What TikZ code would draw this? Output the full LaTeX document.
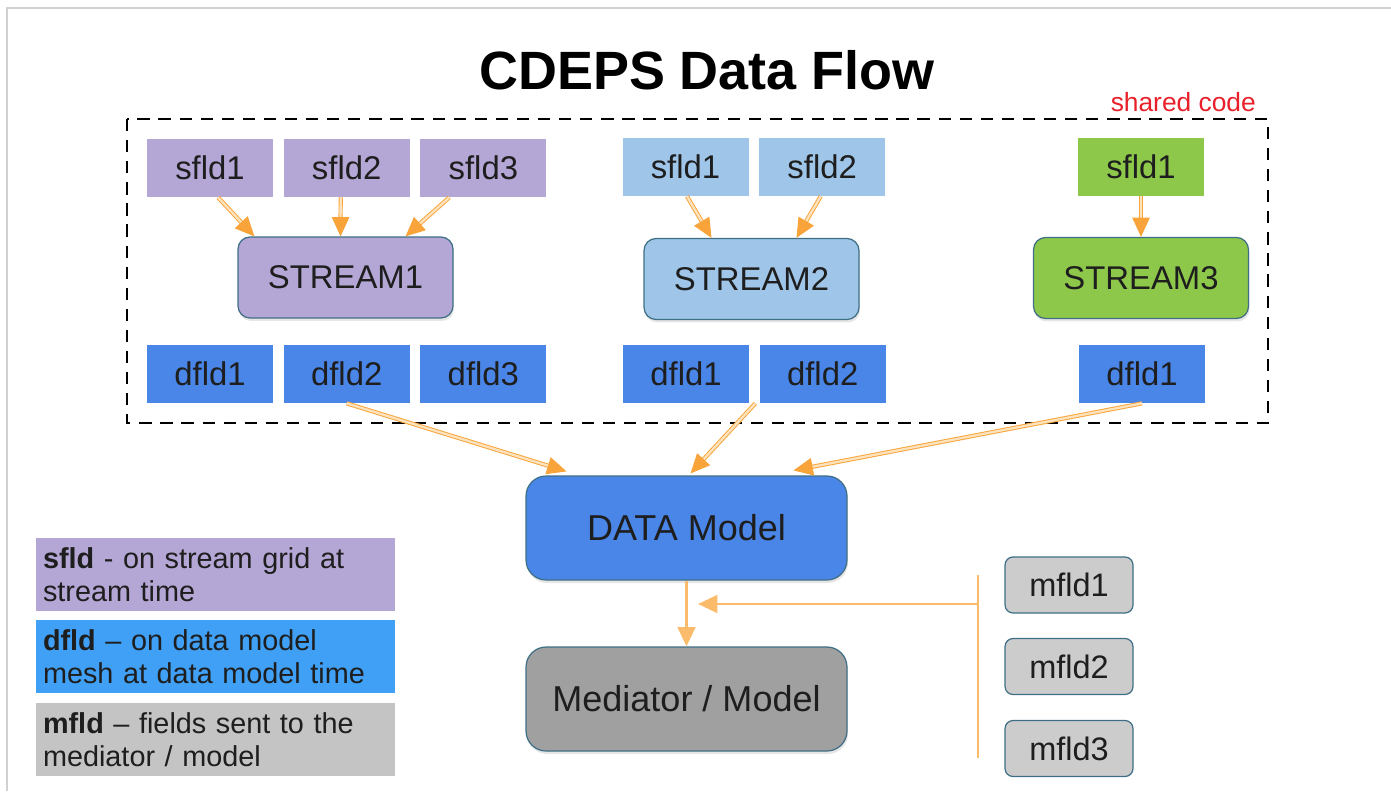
\documentclass[tikz,border=0pt]{standalone}
\usepackage{fontspec}
\setmainfont{Liberation Sans}
\usetikzlibrary{arrows.meta,positioning,calc,shadows}

\definecolor{purp}{HTML}{B4A7D6}
\definecolor{lblue}{HTML}{9FC5E8}
\definecolor{lgreen}{HTML}{8DC84A}
\definecolor{dblue}{HTML}{4A86E8}
\definecolor{legblue}{HTML}{40A0F5}
\definecolor{leggray}{HTML}{C4C4C4}
\definecolor{medgray}{HTML}{A0A0A0}
\definecolor{mgray}{HTML}{CCCCCC}
\definecolor{edgec}{HTML}{3F6F86}
\definecolor{arrorange}{HTML}{F8A43A}
\definecolor{arrpale}{HTML}{FCE3BE}
\definecolor{txt}{HTML}{1E1E1E}
\definecolor{sharedred}{HTML}{E8202A}

\tikzset{
  fldbox/.style={minimum width=2.52cm, minimum height=1.16cm, inner sep=0pt,
     text=txt, font=\fontsize{18.7}{22}\selectfont},
  sfld/.style={fldbox, fill=#1},
  dfld/.style={fldbox, fill=dblue},
  streambox/.style={rounded corners=0.24cm, draw=edgec, line width=0.7pt,
     minimum width=4.3cm, minimum height=1.62cm, text=txt,
     font=\fontsize{18.7}{22}\selectfont, fill=#1,
     drop shadow={opacity=0.2, shadow xshift=0.02cm, shadow yshift=-0.06cm}},
  modelbox/.style={streambox=#1, rounded corners=0.4cm,
     minimum width=6.42cm, minimum height=2.08cm,
     font=\fontsize{20.5}{24}\selectfont},
  mfld/.style={rounded corners=0.16cm, draw=edgec, line width=0.7pt, fill=mgray,
     minimum width=2.56cm, minimum height=1.12cm, text=txt,
     font=\fontsize{18.5}{22}\selectfont},
  legend/.style={fill=#1, minimum width=7.18cm, minimum height=1.46cm,
     text width=6.9cm, align=left, inner sep=0pt, text=txt,
     font=\fontsize{16.4}{18.7}\selectfont},
  flow/.style={draw=arrorange, double=arrpale, double distance=1.3pt, line width=0.55pt,
     -{Triangle[length=11pt,width=10pt,color=arrorange,fill=arrorange]}},
  feed/.style={draw=arrorange!75, line width=1.6pt},
}

\begin{document}
\begin{tikzpicture}[x=0.02cm, y=-0.02cm]
\useasboundingbox (0,0) rectangle (1391,791);
\draw[black!18, line width=1.2pt] (7,791) -- (7,8) -- (1391,8);

\node[font=\fontsize{30.7}{36}\selectfont\bfseries] (title) at (707,70) {CDEPS Data Flow};

% shared code frame
\draw[dashed, dash pattern=on 7pt off 5pt, line width=1.6pt] (127,119) rectangle (1268,423);
\node[anchor=east, text=sharedred, font=\fontsize{15}{18}\selectfont] (shared) at (1262,102) {shared code};

% stream 1
\node[sfld=purp] (sA1) at (210,168) {sfld1};
\node[sfld=purp, right=0.2cm of sA1] (sA2) {sfld2};
\node[sfld=purp, right=0.2cm of sA2] (sA3) {sfld3};
\node[streambox=purp] (st1) at (345.5,277.5) {STREAM1};
\node[dfld] (dA1) at (210,374) {dfld1};
\node[dfld, right=0.2cm of dA1] (dA2) {dfld2};
\node[dfld, right=0.2cm of dA2] (dA3) {dfld3};

% stream 2
\node[sfld=lblue] (sB1) at (685.5,167) {sfld1};
\node[sfld=lblue, right=0.2cm of sB1] (sB2) {sfld2};
\node[streambox=lblue] (st2) at (751.5,279) {STREAM2};
\node[dfld] (dB1) at (686,374) {dfld1};
\node[dfld, right=0.2cm of dB1] (dB2) {dfld2};

% stream 3
\node[sfld=lgreen] (sC1) at (1141,167) {sfld1};
\node[streambox=lgreen] (st3) at (1141,278) {STREAM3};
\node[dfld] (dC1) at (1142,374) {dfld1};

% models
\node[modelbox=dblue] (data) at (686.5,528) {DATA Model};
\node[modelbox=medgray] (med) at (686.5,699) {Mediator / Model};

\node[mfld] (m1) at (1069,585) {mfld1};
\node[mfld] (m2) at (1069,666.5) {mfld2};
\node[mfld] (m3) at (1069,748.5) {mfld3};

% legend
\node[legend=purp] (lsfld) at (215.5,574.5) {\textbf{sfld} - on stream grid at\\stream time};
\node[legend=legblue] (ldfld) at (215.5,656.5) {\textbf{dfld} -- on data model\\mesh at data model time};
\node[legend=leggray] (lmfld) at (215.5,739.5) {\textbf{mfld} -- fields sent to the\\mediator / model};

% arrows into the streams
\draw[flow] ($(sA1.south)+(8,0)$) -- ($(st1.north west)+(17,0)$);
\draw[flow] ($(sA2.south)+(-6,0)$) -- ($(st1.north)+(-5,0)$);
\draw[flow] ($(sA3.south)+(-34,0)$) -- ($(st1.north)+(60,0)$);
\draw[flow] ($(sB1.south)+(1.5,0)$) -- ($(st2.north)+(-40,0)$);
\draw[flow] ($(sB2.south)+(-1.5,0)$) -- ($(st2.north)+(45,0)$);
\draw[flow] (sC1.south) -- (st3.north);

% arrows into the data model
\draw[flow] (dA2.south) -- ($(data.north)+(-120,-4)$);
\draw[flow] ($(dB2.south west)+(-4,0)$) -- ($(data.north)+(4,-2)$);
\draw[flow] (dC1.south) -- ($(data.north)+(107,-5)$);

% data model to mediator
\draw[feed, -{Triangle[length=11pt,width=10pt]}] (data.south) -- (med.north);

% mfld bracket
\coordinate (brtop) at (978,575);
\coordinate (brbot) at (978,758);
\coordinate (brmid) at (978,604);
\coordinate (brtip) at (698,604);
\draw[feed] (brtop) -- (brbot);
\draw[feed, -{Triangle[length=11pt,width=10pt]}] (brmid) -- (brtip);
\end{tikzpicture}
\end{document}
